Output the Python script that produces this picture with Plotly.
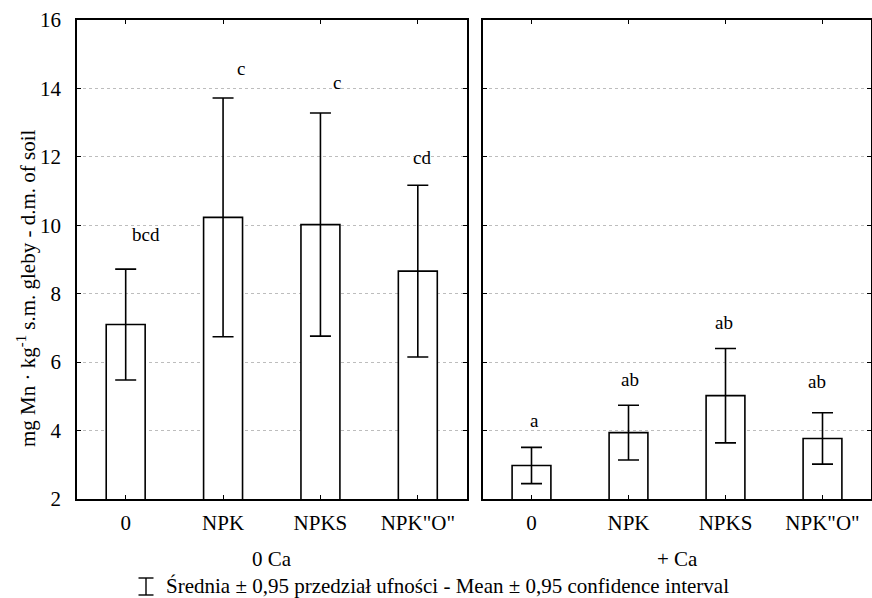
import plotly.graph_objects as go

# ---------------- data ----------------
categories = ["0", "NPK", "NPKS", "NPK\"O\""]
groups = ["0 Ca", "+ Ca"]

mean_0ca = [7.10, 10.23, 10.02, 8.66]
ci_0ca = [1.62, 3.49, 3.26, 2.51]
letters_0ca = ["bcd", "c", "c", "cd"]
letter_y_0ca = [9.74, 14.59, 14.17, 11.97]

mean_ca = [2.98, 3.94, 5.02, 3.77]
ci_ca = [0.53, 0.80, 1.38, 0.75]
letters_ca = ["a", "ab", "ab", "ab"]
letter_y_ca = [4.29, 5.49, 7.15, 5.42]

y_ticks = [2, 4, 6, 8, 10, 12, 14, 16]
y_title = "mg Mn · kg<sup>-1</sup> s.m. gleby - d.m. of soil"
legend_text = "Średnia ± 0,95 przedział ufności - Mean ± 0,95 confidence interval"

# ---------------- layout geometry ----------------
W, H = 872, 598
FONT = "Liberation Serif"
letter_dx_0ca = [0.205, 0.185, 0.165, 0.047]
letter_dx_ca = [0.03, 0.015, -0.02, -0.056]

def px_x(p):
    return p / W

def px_y(p):
    return 1 - p / H

xs = list(range(len(categories)))

fig = go.Figure()

for means, cis, xa, ya in [(mean_0ca, ci_0ca, "x", "y"),
                           (mean_ca, ci_ca, "x2", "y2")]:
    fig.add_trace(go.Bar(
        x=xs, y=means, xaxis=xa, yaxis=ya,
        width=0.4,
        marker=dict(color="white", line=dict(color="black", width=1.6)),
        error_y=dict(type="data", array=cis, symmetric=True,
                     color="black", thickness=1.6, width=10.5),
        showlegend=False,
    ))

for letters, ly, dx, xa, ya in [(letters_0ca, letter_y_0ca, letter_dx_0ca, "x", "y"),
                                (letters_ca, letter_y_ca, letter_dx_ca, "x2", "y2")]:
    for j, (t, yv) in enumerate(zip(letters, ly)):
        fig.add_annotation(x=xs[j] + dx[j], y=yv, xref=xa, yref=ya, text=t,
                           xanchor="center", yanchor="middle",
                           showarrow=False, font=dict(family=FONT, size=19, color="black"))

axis_common = dict(
    showline=True, linecolor="black", linewidth=1.6, mirror="ticks",
    ticks="inside", ticklen=4, tickcolor="black", tickwidth=1.2,
    tickfont=dict(family=FONT, size=21, color="black"),
    automargin=False,
)

dom_y = [px_y(499), px_y(20)]
fig.update_layout(
    width=W, height=H,
    margin=dict(l=0, r=0, t=0, b=0, autoexpand=False),
    paper_bgcolor="white", plot_bgcolor="white",
    xaxis=dict(domain=[px_x(77), px_x(466.5)], range=[-0.5, 3.5],
               tickvals=xs, ticktext=categories, anchor="y",
               ticklabelstandoff=4, **axis_common),
    xaxis2=dict(domain=[px_x(483), px_x(871)], range=[-0.5, 3.5],
                tickvals=xs, ticktext=categories, anchor="y2",
                ticklabelstandoff=4, **axis_common),
    yaxis=dict(domain=dom_y, range=[2, 16], tickvals=y_ticks, anchor="x",
               showgrid=True, gridcolor="#bdbdbd", griddash="dot", gridwidth=1,
               zeroline=False, ticklabelstandoff=10, **axis_common),
    yaxis2=dict(domain=dom_y, range=[2, 16], tickvals=y_ticks, anchor="x2",
                showticklabels=False, matches="y",
                showgrid=True, gridcolor="#bdbdbd", griddash="dot", gridwidth=1,
                zeroline=False, **axis_common),
)

# y axis title
fig.add_annotation(x=px_x(26), y=px_y(289), xref="paper", yref="paper",
                   text=y_title, textangle=-90, showarrow=False,
                   xanchor="center", yanchor="middle",
                   font=dict(family=FONT, size=21, color="black"))

# group labels
for g, cx in zip(groups, [px_x((77 + 466.5) / 2), px_x((483 + 871) / 2)]):
    fig.add_annotation(x=cx, y=px_y(559), xref="paper", yref="paper", text=g,
                       xanchor="center", yanchor="middle",
                       showarrow=False, font=dict(family=FONT, size=21, color="black"))

# legend symbol (error bar glyph) and text
sx, stop, sbot, sw = 146, 578, 595, 7.5
for x0, y0, x1, y1 in [(sx, stop, sx, sbot), (sx - sw, stop, sx + sw, stop),
                       (sx - sw, sbot, sx + sw, sbot)]:
    fig.add_shape(type="line", xref="paper", yref="paper",
                  x0=px_x(x0), y0=px_y(y0), x1=px_x(x1), y1=px_y(y1),
                  line=dict(color="black", width=1.4))
fig.add_annotation(x=px_x(164), y=px_y(586), xref="paper", yref="paper",
                   text=legend_text, xanchor="left", yanchor="middle", showarrow=False,
                   font=dict(family=FONT, size=21, color="black"))

fig.write_html("out.html")
